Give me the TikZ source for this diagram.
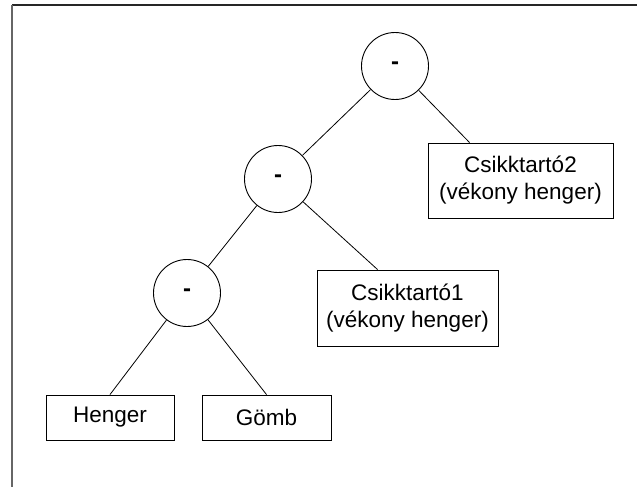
\documentclass[tikz,border=0pt]{standalone}
\usepackage{fontspec}
\setmainfont{Liberation Sans}
\begin{document}
\begin{tikzpicture}[x=1pt,y=-1pt,
  every node/.style={font=\fontsize{22.5}{27}\selectfont},
  opnode/.style={draw, circle, line width=0.9pt, minimum size=67pt, inner sep=0pt, font=\fontsize{24}{27}\selectfont\bfseries},
  leafbox/.style={draw, rectangle, line width=0.9pt, inner sep=0pt, align=center},
  link/.style={line width=0.8pt}]
\useasboundingbox (0,0) rectangle (637,487);
% frame (only top and left edges visible)
\draw[line width=1.6pt, black!85] (12,5) -- (637,5);
\draw[line width=1.6pt, black!60] (12,5) -- (12,487);
% operator nodes
\node[opnode] (c1) at (395,66) {-};
\node[opnode] (c2) at (278,179) {-};
\node[opnode] (c3) at (187,293) {-};
% leaf nodes
\node[leafbox, minimum width=128pt, minimum height=45pt] (henger) at (110,417.5) {Henger};
\node[leafbox, minimum width=129pt, minimum height=45pt] (gomb) at (266.5,417.5) {Gömb};
\node[leafbox, minimum width=181pt, minimum height=76pt] (b1) at (407.5,308) {Csikktartó1\\(vékony henger)};
\node[leafbox, minimum width=185pt, minimum height=75pt] (b2) at (520.5,180.5) {Csikktartó2\\(vékony henger)};
% connectors
\draw[link] (c1) -- (c2);
\draw[link] (c1) -- ([xshift=42pt]b2.north west);
\draw[link] (c2) -- (c3);
\draw[link] (c2) -- ([xshift=61pt]b1.north west);
\draw[link] (c3) -- (henger.north);
\draw[link] (c3) -- (gomb.north);
\end{tikzpicture}
\end{document}
